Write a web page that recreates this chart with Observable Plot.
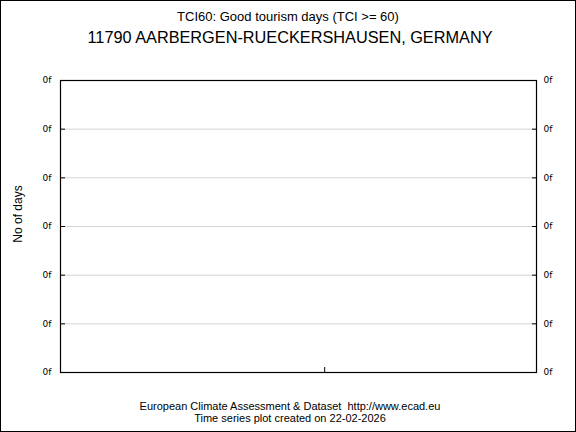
<!DOCTYPE html>
<html>
<head>
<meta charset="utf-8">
<script src="https://cdn.jsdelivr.net/npm/d3@7"></script>
<script src="https://cdn.jsdelivr.net/npm/@observablehq/plot@0.6"></script>
<style>
  body { margin: 0; background: #fff; }
  #wrap { position: relative; width: 576px; height: 432px; font-family: "Liberation Sans", Arial, sans-serif; color: #000; overflow: hidden; }
  #border { position: absolute; left: 0; top: 0; width: 576px; height: 432px; box-sizing: border-box; border: 1px solid #000; pointer-events: none; }
  .t { position: absolute; white-space: nowrap; transform: translate(-50%, -50%); }
  #chart { position: absolute; left: 0; top: 0; }
</style>
</head>
<body>
<div id="wrap">
  <div id="chart"></div>
  <div class="t" style="left:288px; top:16px; font-size:13px;">TCI60: Good tourism days (TCI &gt;= 60)</div>
  <div class="t" style="left:290px; top:37px; font-size:16.3px;">11790 AARBERGEN-RUECKERSHAUSEN, GERMANY</div>
  <div class="t" style="left:290px; top:406px; font-size:11px;">European Climate Assessment &amp; Dataset&nbsp; http://www.ecad.eu</div>
  <div class="t" style="left:290px; top:418px; font-size:11px;">Time series plot created on 22-02-2026</div>
  <div id="border"></div>
</div>
<script>
// Data (the series is empty in the reference)
const years = [];
const days = [];
const yDomain = [0, 6];
const yTicks = [0, 1, 2, 3, 4, 5, 6];
const yTickLabels = ["0f", "0f", "0f", "0f", "0f", "0f", "0f"];
const xDomain = [0, 100];
const xTicks = [55.5];
const yLabel = "No of days";

const series = years.map((y, i) => ({year: y, days: days[i]}));
const fmt = d => yTickLabels[yTicks.indexOf(d)] ?? "";

const plot = Plot.plot({
  width: 576,
  height: 432,
  marginLeft: 60,
  marginRight: 40,
  marginTop: 80,
  marginBottom: 60,
  style: {background: "transparent", fontFamily: "'DejaVu Sans', sans-serif", fontSize: "9px", color: "#000"},
  x: {domain: xDomain, axis: null},
  y: {domain: yDomain, axis: null},
  marks: [
    Plot.gridY(yTicks, {stroke: "#d4d4d4", strokeOpacity: 1}),
    Plot.line(series, {x: "year", y: "days", stroke: "#000"}),
    // left ticks (inward) and labels
    Plot.axisY({anchor: "left", ticks: yTicks, tickSize: 5, dx: 5, tickFormat: () => "", label: null}),
    Plot.axisY({anchor: "left", ticks: yTicks, tickSize: 0, tickPadding: 9, tickFormat: fmt, label: null, fontSize: 9}),
    // right ticks (inward) and labels
    Plot.axisY({anchor: "right", ticks: yTicks, tickSize: 5, dx: -5, tickFormat: () => "", label: null}),
    Plot.axisY({anchor: "right", ticks: yTicks, tickSize: 0, tickPadding: 7, tickFormat: fmt, label: null, fontSize: 9}),
    // bottom tick (inward)
    Plot.axisX({anchor: "bottom", ticks: xTicks, tickSize: 5, dy: -5, tickFormat: () => "", label: null}),
    Plot.frame({stroke: "#000", strokeWidth: 1.2})
  ]
});
document.getElementById("chart").appendChild(plot);

// y axis title
const lab = document.createElement("div");
lab.className = "t";
lab.style.left = "18px";
lab.style.top = "214px";
lab.style.fontSize = "12px";
lab.style.transform = "translate(-50%, -50%) rotate(-90deg)";
lab.textContent = yLabel;
document.getElementById("wrap").appendChild(lab);
</script>
</body>
</html>
